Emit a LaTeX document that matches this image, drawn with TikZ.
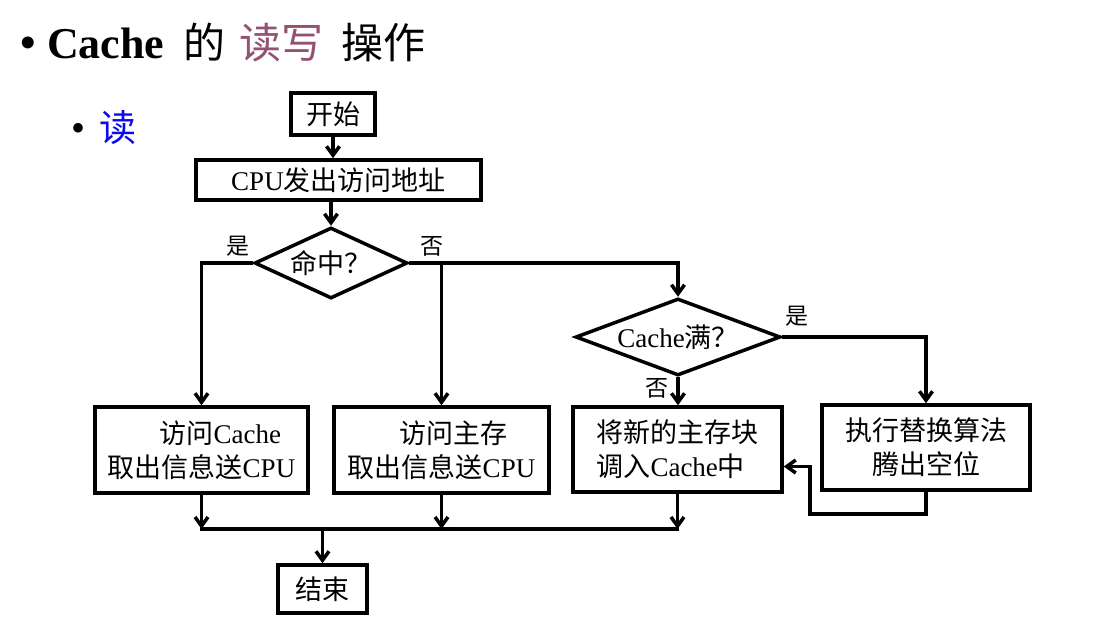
\documentclass[tikz,border=0pt]{standalone}
\usepackage{fontspec}
\setmainfont{Liberation Serif}
\newfontfamily\cjk{Noto Sans CJK SC}
\usetikzlibrary{shapes.geometric,arrows.meta}
\definecolor{titlepurple}{RGB}{148,82,115}
\definecolor{readblue}{RGB}{10,10,240}
\newcommand\bxfont{\fontsize{27}{34}\selectfont}
\newcommand\lblfont{\fontsize{23}{26}\selectfont}
\begin{document}
\begin{tikzpicture}[x=1pt,y=-1pt,
  box/.style={draw, line width=3.5pt, rectangle, inner sep=0pt, font=\bxfont},
  dec/.style={draw, line width=3.5pt, diamond, inner sep=0pt},
  dtext/.style={inner sep=0pt, font=\bxfont},
  conn/.style={line width=3.5pt},
  arr/.style={line width=3.5pt, -{Straight Barb[length=9pt,width=13pt]}},
  lbl/.style={font=\lblfont\cjk, inner sep=0pt}]
\useasboundingbox (0,0) rectangle (1095,622);

% title
\node[anchor=base west, inner sep=0pt, font=\fontsize{50}{50}\selectfont] (b1) at (19,59) {\textbullet};
\node[anchor=base west, inner sep=0pt, font=\fontsize{44}{44}\selectfont\bfseries] (t1) at (47,58) {Cache};
\node[anchor=base west, inner sep=0pt, font=\fontsize{42}{44}\selectfont\cjk] (t2) at (183,58) {的};
\node[anchor=base west, inner sep=0pt, font=\fontsize{42}{44}\selectfont\cjk, text=titlepurple] (t3) at (239,58) {读写};
\node[anchor=base west, inner sep=0pt, font=\fontsize{42}{44}\selectfont\cjk] (t4) at (341,58) {操作};
\node[anchor=base west, inner sep=0pt, font=\fontsize{40}{40}\selectfont] (b2) at (71,141) {\textbullet};
\node[anchor=base west, inner sep=0pt, font=\fontsize{37}{37}\selectfont\cjk, text=readblue] (t5) at (99,141) {读};

% nodes
\node[box, minimum width=84, minimum height=42] (start) at (333,114) {\cjk 开始};
\node[box, minimum width=285, minimum height=40] (cpu) at (338.5,180) {CPU{\cjk 发出访问地址}};
\node[dec, minimum width=153, minimum height=71] (hit) at (331,263) {};
\node[dtext] (hittxt) at (hit.center) {{\cjk 命中？}};
\node[dec, minimum width=205, minimum height=77] (full) at (678,337) {};
\node[dtext] (fulltxt) at (full.center) {Cache{\cjk 满？}};
\node[box, minimum width=213, minimum height=86, align=left] (b1x) at (201.5,450)
  {\hspace*{52pt}{\cjk 访问}Cache\\{\cjk 取出信息送}CPU};
\node[box, minimum width=215, minimum height=86, align=left] (b2x) at (441.5,450)
  {\hspace*{52pt}{\cjk 访问主存}\\{\cjk 取出信息送}CPU};
\node[box, minimum width=209, minimum height=85, align=left] (b3x) at (677.5,449.5)
  {{\cjk 将新的主存块}\\{\cjk 调入}Cache{\cjk 中}};
\node[box, minimum width=208, minimum height=85, align=center] (b4x) at (926,447.5)
  {{\cjk 执行替换算法}\\{\cjk 腾出空位}};
\node[box, minimum width=89, minimum height=48] (end) at (322.5,589) {\cjk 结束};

% labels
\node[lbl] (yes1) at (238,246) {是};
\node[lbl] (no1) at (432,246) {否};
\node[lbl] (yes2) at (797,316) {是};
\node[lbl] (no2) at (657,388) {否};

% connectors
\draw[arr] (start.south) -- (start.south |- cpu.north);
\draw[arr] (hit.north |- cpu.south) -- (hit.north);
\draw[arr] (hit.west) -| (b1x.north);
\draw[arr] (hit.east) -| (full.north);
\draw[arr] (b2x.north |- hit.east) -- (b2x.north);
\draw[arr] (full.east) -| (b4x.north);
\draw[arr] (full.south) -- (full.south |- b3x.north);
\coordinate (r1) at ([yshift=-22pt]b4x.south);
\coordinate (r2) at ([xshift=26pt,yshift=-17pt]b3x.east);
\draw[arr] (b4x.south) -- (r1) -| (r2) -- ([yshift=-17pt]b3x.east);

\coordinate (m) at (322.5,529);
\draw[arr] (b1x.south) -- (b1x.south |- m);
\draw[arr] (b2x.south) -- (b2x.south |- m);
\draw[arr] (b3x.south) -- (b3x.south |- m);
\draw[conn] ([xshift=-1.75pt]b1x.south |- m) -- ([xshift=1.75pt]b3x.south |- m);
\draw[arr] (m) -- (end.north);
\end{tikzpicture}
\end{document}
